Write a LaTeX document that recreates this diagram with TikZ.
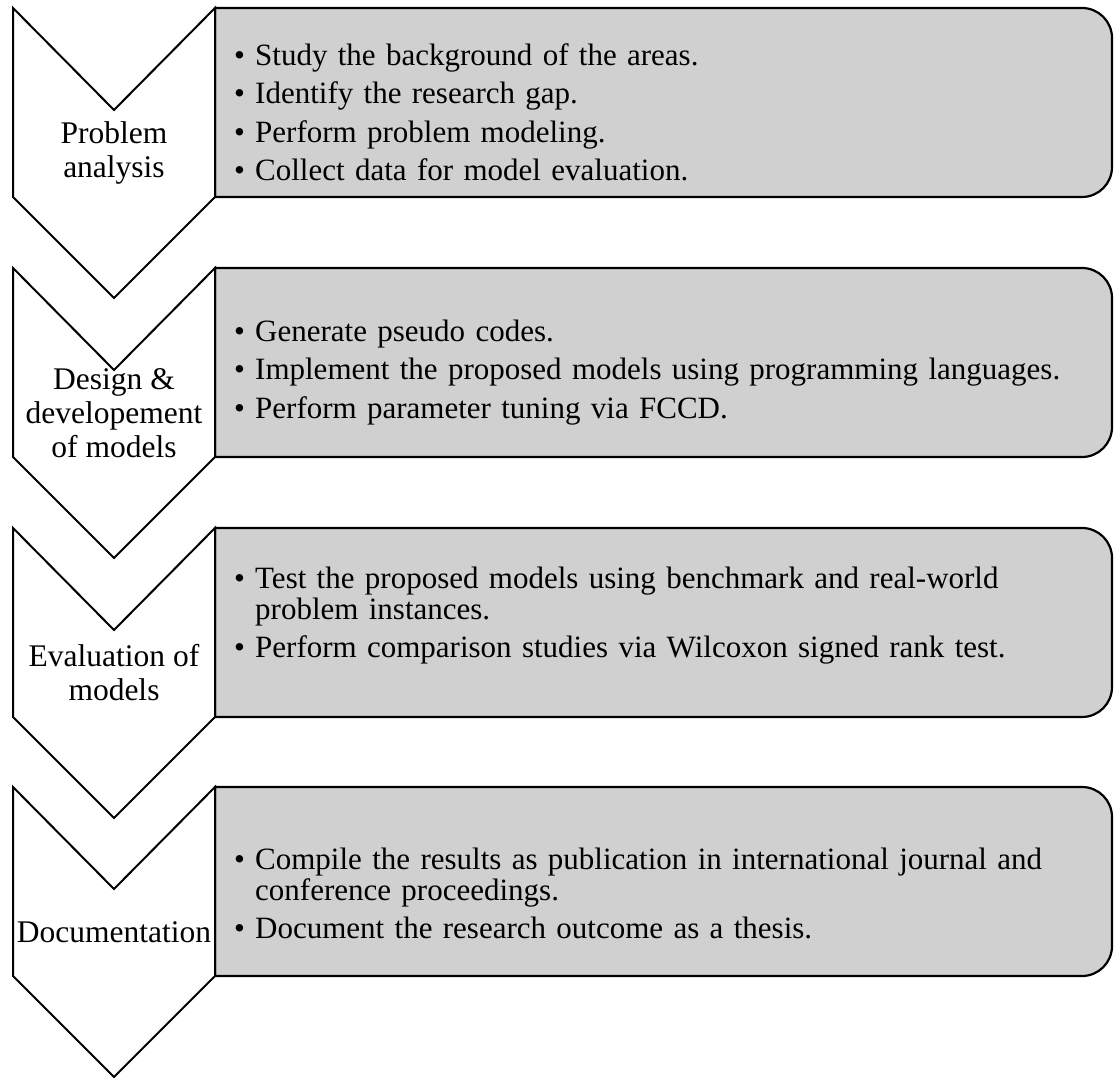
\documentclass[tikz,border=0pt]{standalone}
\usepackage{fontspec}
\setmainfont{Liberation Serif}
\definecolor{boxgray}{RGB}{208,208,208}
\newcommand\bitem[1]{\par\hyphenpenalty=10000\hangindent=21pt\hangafter=1\noindent\hbox to 21pt{\textbullet\hss}#1\par}

\begin{document}
\begin{tikzpicture}[
      x=1pt, y=-1pt,
      chevron/.style={draw, line width=2pt, fill=white, line join=miter},
      stepbox/.style={draw, line width=2.2pt, fill=boxgray},
      steplabel/.style={align=center, inner sep=0pt, font=\fontsize{31.5}{34}\selectfont},
      steptext/.style={anchor=west, text width=845pt, align=left, inner sep=0pt,
        font=\fontsize{31}{31}\selectfont\setlength\parskip{7.5pt}}
    ]
    \useasboundingbox (0,0) rectangle (1117,1078);

    % Etapas
    \draw[stepbox] (215,8) -- (1082,8) arc[start angle=-90, end angle=0, radius=30]
      -- (1112,167) arc[start angle=0, end angle=90, radius=30] -- (215,197) -- cycle;
    \draw[chevron] (13,8) -- (114,110) -- (215,8) -- (215,197) -- (114,298) -- (13,197) -- cycle;
    \node[steplabel] (analysis) at (114,153) {Problem\\analysis};
    \node[steptext] (analysistxt) at (234,104) {%
      \bitem{Study the background of the areas.}
      \bitem{Identify the research gap.}
      \bitem{Perform problem modeling.}
      \bitem{Collect data for model evaluation.}};

    \draw[stepbox] (215,268) -- (1082,268) arc[start angle=-90, end angle=0, radius=30]
      -- (1112,427) arc[start angle=0, end angle=90, radius=30] -- (215,457) -- cycle;
    \draw[chevron] (13,268) -- (114,370) -- (215,268) -- (215,457) -- (114,558) -- (13,457) -- cycle;
    \node[steplabel] (design) at (114,413) {Design \&\\developement\\of models};
    \node[steptext] (designtxt) at (234,364) {%
      \bitem{Generate pseudo codes.}
      \bitem{Implement the proposed models using programming languages.}
      \bitem{Perform parameter tuning via FCCD.}};

    \draw[stepbox] (215,528) -- (1082,528) arc[start angle=-90, end angle=0, radius=30]
      -- (1112,687) arc[start angle=0, end angle=90, radius=30] -- (215,717) -- cycle;
    \draw[chevron] (13,528) -- (114,630) -- (215,528) -- (215,717) -- (114,818) -- (13,717) -- cycle;
    \node[steplabel] (evaluation) at (114,673) {Evaluation of\\models};
    \node[steptext] (evaluationtxt) at (234,607) {%
      \bitem{Test the proposed models using benchmark and real-world problem instances.}
      \bitem{Perform comparison studies via Wilcoxon signed rank test.}};

    \draw[stepbox] (215,787) -- (1082,787) arc[start angle=-90, end angle=0, radius=30]
      -- (1112,946) arc[start angle=0, end angle=90, radius=30] -- (215,976) -- cycle;
    \draw[chevron] (13,787) -- (114,889) -- (215,787) -- (215,976) -- (114,1077) -- (13,976) -- cycle;
    \node[steplabel] (documentation) at (114,932) {Documentation};
    \node[steptext] (documentationtxt) at (234,885) {%
      \bitem{Compile the results as publication in international journal and conference proceedings.}
      \bitem{Document the research outcome as a thesis.}};

  \end{tikzpicture}
\end{document}
